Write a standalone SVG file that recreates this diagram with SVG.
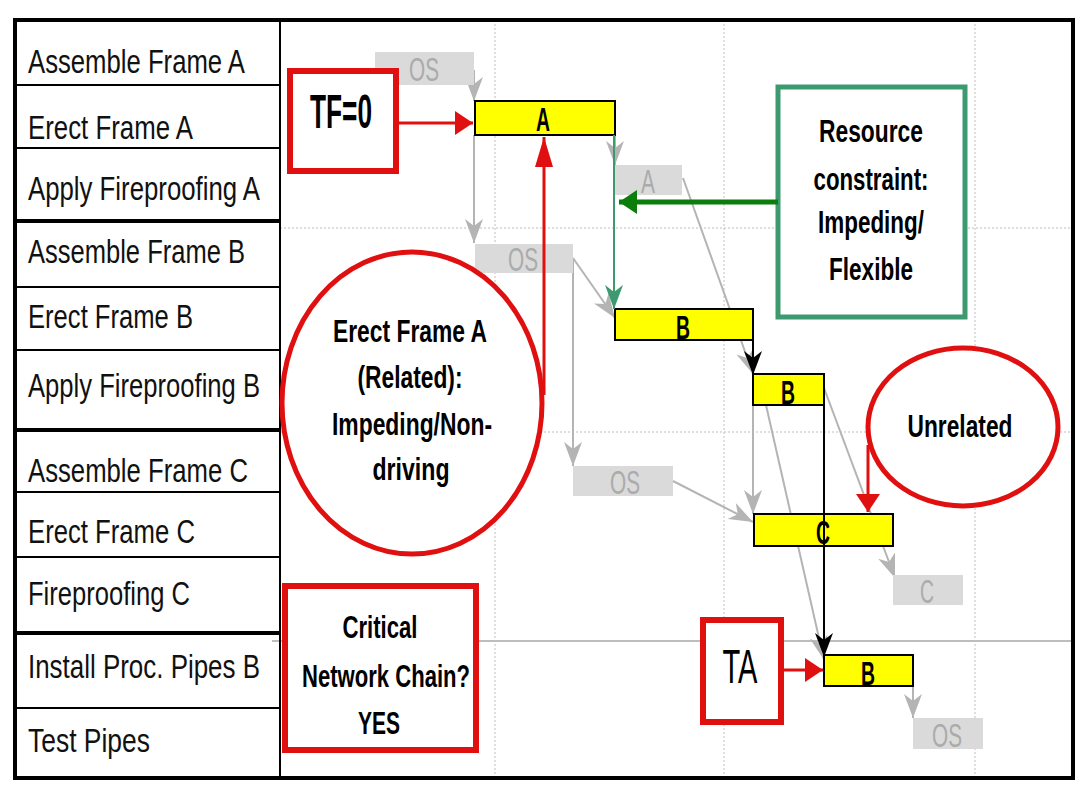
<svg xmlns="http://www.w3.org/2000/svg" width="1089" height="805" viewBox="0 0 1089 805">
<style>
.lbl{font-family:"Liberation Sans",Arial,sans-serif;font-size:34px;fill:#111}
.call{font-family:"Liberation Sans",Arial,sans-serif;font-size:32px;font-weight:bold;fill:#000;text-anchor:middle}
.big{font-size:48px}
.reg{font-weight:normal}
.bar{fill:#ffff00;stroke:#000;stroke-width:2}
.bart{font-family:"Liberation Sans",Arial,sans-serif;font-size:34px;font-weight:bold;fill:#000;text-anchor:middle}
.gbox{fill:#dadada}
.gt{font-family:"Liberation Sans",Arial,sans-serif;font-size:33px;fill:#ababab;text-anchor:middle}
.grid{stroke:#bdbdbd;stroke-width:1;stroke-dasharray:2 2;fill:none}
.row{stroke:#000;stroke-width:2}
.rowb{stroke:#000;stroke-width:4}
.gc{stroke:#b4b4b4;stroke-width:2;fill:none;marker-end:url(#mg)}
.bc{stroke:#000;stroke-width:2;fill:none;marker-end:url(#mb)}
.rc{stroke:#e01010;stroke-width:3;fill:none}
.redbox{fill:#fff;stroke:#e01010;stroke-width:6}
</style>
<defs>
<marker id="mg" markerUnits="userSpaceOnUse" markerWidth="26" markerHeight="18" refX="24" refY="9" orient="auto"><path d="M0,0 L24,9 L0,18 L7,9 z" fill="#b4b4b4"/></marker>
<marker id="mb" markerUnits="userSpaceOnUse" markerWidth="26" markerHeight="18" refX="24" refY="9" orient="auto"><path d="M0,0 L24,9 L0,18 L7,9 z" fill="#000"/></marker>
<marker id="mgr" markerUnits="userSpaceOnUse" markerWidth="26" markerHeight="18" refX="24" refY="9" orient="auto"><path d="M0,0 L24,9 L0,18 L7,9 z" fill="#3d9970"/></marker>
<marker id="mr" markerUnits="userSpaceOnUse" markerWidth="20" markerHeight="24" refX="18" refY="12" orient="auto"><path d="M0,0 L18,12 L0,24 z" fill="#e01010"/></marker>
<marker id="mr2" markerUnits="userSpaceOnUse" markerWidth="32" markerHeight="18" refX="30" refY="9" orient="auto"><path d="M0,0 L30,9 L0,18 z" fill="#e01010"/></marker>
<marker id="mgf" markerUnits="userSpaceOnUse" markerWidth="20" markerHeight="24" refX="18" refY="12" orient="auto"><path d="M0,0 L18,12 L0,24 z" fill="#0a7d0a"/></marker>
</defs>
<rect width="1089" height="805" fill="#fff"/>

<g id="grid">
<line class="grid" x1="495" y1="20" x2="495" y2="778"/>
<line class="grid" x1="724" y1="20" x2="724" y2="778"/>
<line class="grid" x1="975" y1="20" x2="975" y2="778"/>
<line class="grid" x1="280" y1="228" x2="1073" y2="228"/>
<line class="grid" x1="280" y1="432" x2="1073" y2="432"/>
<line x1="272" y1="641" x2="1073" y2="641" stroke="#bdbdbd" stroke-width="2"/>
</g>

<g id="table">
<rect x="15" y="20" width="1058" height="758" fill="none" stroke="#000" stroke-width="4"/>
<line class="row" x1="280" y1="20" x2="280" y2="778"/>
<line class="row" x1="15" y1="85" x2="280" y2="85"/>
<line class="row" x1="15" y1="148" x2="280" y2="148"/>
<line class="rowb" x1="15" y1="221" x2="280" y2="221"/>
<line class="row" x1="15" y1="287" x2="280" y2="287"/>
<line class="row" x1="15" y1="350" x2="280" y2="350"/>
<line class="rowb" x1="15" y1="430" x2="280" y2="430"/>
<line class="row" x1="15" y1="492" x2="280" y2="492"/>
<line class="row" x1="15" y1="557" x2="280" y2="557"/>
<line class="rowb" x1="15" y1="633" x2="280" y2="633"/>
<line class="row" x1="15" y1="708" x2="280" y2="708"/>
<text class="lbl" x="28" y="73" textLength="217" lengthAdjust="spacingAndGlyphs">Assemble Frame A</text>
<text class="lbl" x="28" y="139" textLength="165" lengthAdjust="spacingAndGlyphs">Erect Frame A</text>
<text class="lbl" x="28" y="200" textLength="232" lengthAdjust="spacingAndGlyphs">Apply Fireproofing A</text>
<text class="lbl" x="28" y="263" textLength="217" lengthAdjust="spacingAndGlyphs">Assemble Frame B</text>
<text class="lbl" x="28" y="328" textLength="165" lengthAdjust="spacingAndGlyphs">Erect Frame B</text>
<text class="lbl" x="28" y="397" textLength="232" lengthAdjust="spacingAndGlyphs">Apply Fireproofing B</text>
<text class="lbl" x="28" y="482" textLength="220" lengthAdjust="spacingAndGlyphs">Assemble Frame C</text>
<text class="lbl" x="28" y="543" textLength="167" lengthAdjust="spacingAndGlyphs">Erect Frame C</text>
<text class="lbl" x="28" y="605" textLength="162" lengthAdjust="spacingAndGlyphs">Fireproofing C</text>
<text class="lbl" x="28" y="678" textLength="232" lengthAdjust="spacingAndGlyphs">Install Proc. Pipes B</text>
<text class="lbl" x="28" y="752" textLength="122" lengthAdjust="spacingAndGlyphs">Test Pipes</text>
</g>

<g id="connectors-back">
<line class="gc" x1="474" y1="70" x2="474" y2="101"/>
<line class="gc" x1="474" y1="135" x2="474" y2="243"/>
<line class="gc" x1="615" y1="135" x2="615" y2="165"/>
<line class="gc" x1="683" y1="178" x2="753" y2="374"/>
<line class="gc" x1="573" y1="258" x2="615" y2="318"/>
<line class="gc" x1="573" y1="258" x2="573" y2="466"/>
<line class="gc" x1="673" y1="481" x2="753" y2="522"/>
<line class="gc" x1="753" y1="405" x2="753" y2="514"/>
<line class="gc" x1="766" y1="405" x2="824" y2="660"/>
<line class="gc" x1="824" y1="388" x2="895" y2="578" stroke-width="1.5"/>
<line class="gc" x1="913" y1="686" x2="913" y2="718"/>
</g>

<g id="gray-OS1"><rect class="gbox" x="375" y="52" width="99" height="33"/><text class="gt" x="424" y="81" textLength="30" lengthAdjust="spacingAndGlyphs">OS</text></g>
<g id="gray-A"><rect class="gbox" x="615" y="165" width="67" height="30"/><text class="gt" x="648" y="193" textLength="14" lengthAdjust="spacingAndGlyphs">A</text></g>
<g id="gray-OS2"><rect class="gbox" x="475" y="244" width="98" height="29"/><text class="gt" x="523" y="271" textLength="30" lengthAdjust="spacingAndGlyphs">OS</text></g>
<g id="gray-OS3"><rect class="gbox" x="573" y="466" width="100" height="30"/><text class="gt" x="625" y="494" textLength="30" lengthAdjust="spacingAndGlyphs">OS</text></g>
<g id="gray-C"><rect class="gbox" x="893" y="575" width="70" height="30"/><text class="gt" x="927" y="603" textLength="14" lengthAdjust="spacingAndGlyphs">C</text></g>
<g id="gray-OS4"><rect class="gbox" x="913" y="718" width="70" height="31"/><text class="gt" x="947" y="747" textLength="30" lengthAdjust="spacingAndGlyphs">OS</text></g>

<g id="bar-A"><rect class="bar" x="475" y="101" width="140" height="34"/><text class="bart" x="543" y="131" textLength="14" lengthAdjust="spacingAndGlyphs">A</text></g>
<g id="bar-B1"><rect class="bar" x="615" y="309" width="138" height="31"/><text class="bart" x="683" y="339" textLength="14" lengthAdjust="spacingAndGlyphs">B</text></g>
<g id="bar-B2"><rect class="bar" x="753" y="374" width="71" height="31"/><text class="bart" x="788" y="404" textLength="14" lengthAdjust="spacingAndGlyphs">B</text></g>
<g id="bar-C"><rect class="bar" x="754" y="514" width="139" height="32"/><text class="bart" x="823" y="544" textLength="14" lengthAdjust="spacingAndGlyphs">C</text></g>
<g id="bar-B3"><rect class="bar" x="824" y="655" width="89" height="31"/><text class="bart" x="868" y="685" textLength="14" lengthAdjust="spacingAndGlyphs">B</text></g>

<g id="tf0"><rect class="redbox" x="290" y="71" width="106" height="100"/><text class="call big" x="341" y="128" textLength="62" lengthAdjust="spacingAndGlyphs">TF=0</text></g>
<g id="resource"><rect x="778" y="87" width="187" height="230" fill="#fff" stroke="#3d9970" stroke-width="5"/>
<text class="call" x="871" y="142" textLength="104" lengthAdjust="spacingAndGlyphs">Resource</text>
<text class="call" x="871" y="190" textLength="115" lengthAdjust="spacingAndGlyphs">constraint:</text>
<text class="call" x="871" y="233" textLength="106" lengthAdjust="spacingAndGlyphs">Impeding/</text>
<text class="call" x="871" y="280" textLength="84" lengthAdjust="spacingAndGlyphs">Flexible</text></g>
<g id="related"><ellipse cx="412" cy="403" rx="130" ry="151" fill="#fff" stroke="#e01010" stroke-width="5"/>
<text class="call" x="410" y="342" textLength="154" lengthAdjust="spacingAndGlyphs">Erect Frame A</text>
<text class="call" x="410" y="388" textLength="105" lengthAdjust="spacingAndGlyphs">(Related):</text>
<text class="call" x="412" y="435" textLength="160" lengthAdjust="spacingAndGlyphs">Impeding/Non-</text>
<text class="call" x="411" y="480" textLength="77" lengthAdjust="spacingAndGlyphs">driving</text></g>
<g id="unrelated"><ellipse cx="963" cy="427" rx="95" ry="79" fill="#fff" stroke="#e01010" stroke-width="5"/>
<text class="call" x="960" y="437" textLength="105" lengthAdjust="spacingAndGlyphs">Unrelated</text></g>
<g id="critical"><rect class="redbox" x="285" y="586" width="191" height="164"/>
<text class="call" x="380" y="638" textLength="75" lengthAdjust="spacingAndGlyphs">Critical</text>
<text class="call" x="386" y="687" textLength="168" lengthAdjust="spacingAndGlyphs">Network Chain?</text>
<text class="call" x="379" y="734" textLength="42" lengthAdjust="spacingAndGlyphs">YES</text></g>
<g id="ta"><rect class="redbox" x="703" y="620" width="78" height="102" stroke-width="7"/><text class="call big reg" x="740" y="683" textLength="35" lengthAdjust="spacingAndGlyphs">TA</text></g>

<g id="connectors">
<line x1="614" y1="135" x2="614" y2="309" stroke="#3d9970" stroke-width="2" marker-end="url(#mgr)"/>
<line x1="778" y1="202" x2="619" y2="202" stroke="#0a7d0a" stroke-width="5" marker-end="url(#mgf)"/>
<line class="bc" x1="753" y1="322" x2="753" y2="375"/>
<line class="bc" x1="824" y1="392" x2="824" y2="657"/>
<line class="rc" x1="396" y1="123" x2="473" y2="123" stroke-width="4" marker-end="url(#mr)"/>
<line class="rc" x1="544" y1="395" x2="544" y2="137" marker-end="url(#mr2)"/>
<line class="rc" x1="781" y1="670" x2="823" y2="670" stroke-width="4" marker-end="url(#mr)"/>
<path class="rc" d="M868,445 L868,512" marker-end="url(#mr)"/>
</g>
</svg>
